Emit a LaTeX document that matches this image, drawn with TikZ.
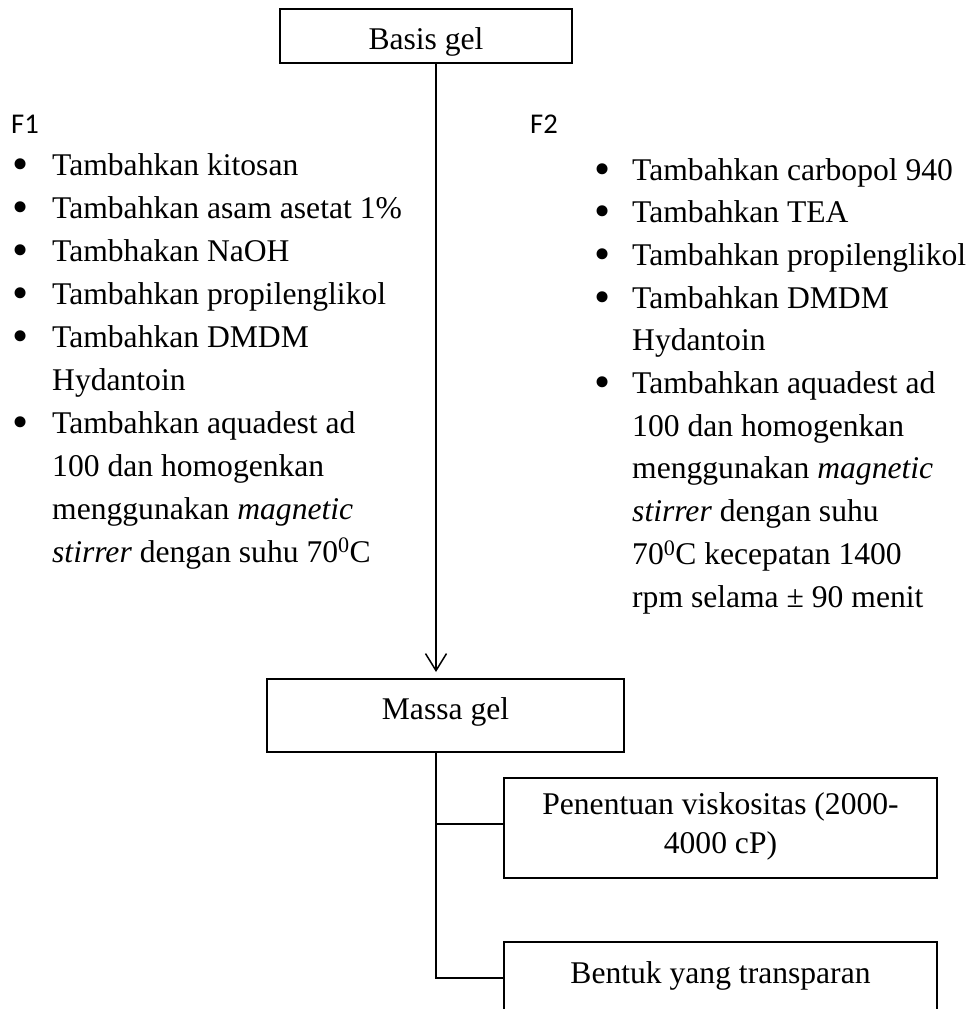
\documentclass[tikz,border=0pt]{standalone}
\usepackage{fontspec}
\setmainfont{Liberation Serif}
\newfontfamily\labelfont{Carlito}
\usetikzlibrary{arrows.meta}

\tikzset{
  body/.style={font=\fontsize{31.6}{39}\selectfont},
  boxed/.style={body, draw, line width=1.5pt, inner sep=0pt, anchor=north, align=center},
  item/.style={body, anchor=base west, inner sep=0pt},
  dot/.style={font=\fontsize{46}{46}\selectfont, anchor=base, inner sep=0pt, yshift=-4pt},
  formlabel/.style={anchor=base west, inner sep=0pt, font=\labelfont\fontsize{28.6}{34}\selectfont},
  link/.style={line width=1.5pt},
}

\begin{document}
\begin{tikzpicture}[x=1pt, y=-1pt]
\useasboundingbox (0,0) rectangle (975,1009);
\clip (0,0) rectangle (975,1009);

% process boxes
\node[boxed, minimum width=292pt, text height=41pt, text depth=13pt] (basis) at (426,8) {Basis gel};
\node[boxed, minimum width=357pt, text height=41pt, text depth=32pt] (massa) at (445.5,678) {Massa gel};
\node[boxed, minimum width=433pt] (visko) at (720.5,777)
  {\rule{0pt}{37pt}Penentuan viskositas (2000-\\4000 cP)\rule[-24pt]{0pt}{24pt}};
\node[boxed, minimum width=433pt, text height=42pt, text depth=30pt] (bentuk) at (720.5,941) {Bentuk yang transparan};

% formula labels
\node[formlabel] (f1) at (11,133) {F1};
\node[formlabel] (f2) at (530,133) {F2};

% F1 steps
\node[dot]  (f1b1) at (21,175) {•};
\node[item] (f1t1) at (52,175) {Tambahkan kitosan};
\node[dot]  (f1b2) at (21,218) {•};
\node[item] (f1t2) at (52,218) {Tambahkan asam asetat 1\%};
\node[dot]  (f1b3) at (21,261) {•};
\node[item] (f1t3) at (52,261) {Tambhakan NaOH};
\node[dot]  (f1b4) at (21,304) {•};
\node[item] (f1t4) at (52,304) {Tambahkan propilenglikol};
\node[dot]  (f1b5) at (21,347) {•};
\node[item] (f1t5) at (52,347) {Tambahkan DMDM};
\node[item] (f1t6) at (52,390) {Hydantoin};
\node[dot]  (f1b7) at (21,433) {•};
\node[item] (f1t7) at (52,433) {Tambahkan aquadest ad};
\node[item] (f1t8) at (52,476) {100 dan homogenkan};
\node[item] (f1t9) at (52,519) {menggunakan \textit{magnetic}};
\node[item] (f1t10) at (52,562) {\textit{stirrer} dengan suhu 70\textsuperscript{0}C};

% F2 steps
\node[dot]  (f2b1) at (602.5,180) {•};
\node[item] (f2t1) at (632,180) {Tambahkan carbopol 940};
\node[dot]  (f2b2) at (602.5,222.7) {•};
\node[item] (f2t2) at (632,222.7) {Tambahkan TEA};
\node[dot]  (f2b3) at (602.5,265.4) {•};
\node[item] (f2t3) at (632,265.4) {Tambahkan propilenglikol};
\node[dot]  (f2b4) at (602.5,308.1) {•};
\node[item] (f2t4) at (632,308.1) {Tambahkan DMDM};
\node[item] (f2t5) at (632,350.8) {Hydantoin};
\node[dot]  (f2b6) at (602.5,393.5) {•};
\node[item] (f2t6) at (632,393.5) {Tambahkan aquadest ad};
\node[item] (f2t7) at (632,436.2) {100 dan homogenkan};
\node[item] (f2t8) at (632,478.9) {menggunakan \textit{magnetic}};
\node[item] (f2t9) at (632,521.6) {\textit{stirrer} dengan suhu};
\node[item] (f2t10) at (632,564.3) {70\textsuperscript{0}C kecepatan 1400};
\node[item] (f2t11) at (632,607) {rpm selama ± 90 menit};

% connectors
\coordinate (vx) at (436,0);
\draw[link, -{Straight Barb[length=17pt, width=21pt]}, shorten >=6pt]
  (basis.south -| vx) -- (massa.north -| vx);
\coordinate (viskoin) at ([yshift=4pt]visko.west);
\draw[link] (massa.south -| vx) -- (vx |- bentuk.west) -- (bentuk.west);
\draw[link] (vx |- viskoin) -- (viskoin);
\end{tikzpicture}
\end{document}
